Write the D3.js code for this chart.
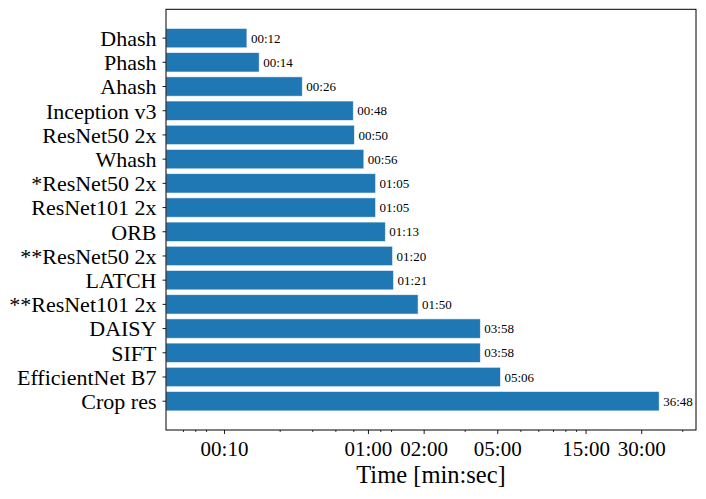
<!DOCTYPE html>
<html lang="en">
<head>
  <meta charset="UTF-8">
  <title>Time per method</title>
  <script src="https://cdn.jsdelivr.net/npm/d3@7"></script>
  <style>
    body { margin: 0; background: #fff; }
    svg text { font-family: "Liberation Serif", "DejaVu Serif", serif; fill: #000; }
  </style>
</head>
<body>

  <div id="container"></div>

  <script>
    // methods, top to bottom
    const methods = [
      "Dhash", "Phash", "Ahash", "Inception v3", "ResNet50 2x", "Whash",
      "*ResNet50 2x", "ResNet101 2x", "ORB", "**ResNet50 2x", "LATCH",
      "**ResNet101 2x", "DAISY", "SIFT", "EfficientNet B7", "Crop res"
    ];
    // run time in seconds
    const seconds = [13.3, 15.5, 26.5, 50, 50.7, 57, 66, 66, 74.5, 81.5, 82.5, 112, 243, 243, 312, 2250];
    // printed labels next to the bars
    const valueLabels = [
      "00:12", "00:14", "00:26", "00:48", "00:50", "00:56", "01:05", "01:05",
      "01:13", "01:20", "01:21", "01:50", "03:58", "03:58", "05:06", "36:48"
    ];
    // x axis ticks (seconds) and their labels
    const majorTicks = [10, 60, 120, 300, 900, 1800];
    const majorTickLabels = ["00:10", "01:00", "02:00", "05:00", "15:00", "30:00"];
    const minorTicks = [6, 7, 8, 20, 30, 40, 50, 70, 80, 200, 400, 500, 600, 700, 800, 3000];

    const width = 706;
    const height = 499;
    const marginLeft = 166, axRight = 696, axTop = 9.3, axBottom = 430;

    const data = methods.map((m, i) => ({ method: m, sec: seconds[i], label: valueLabels[i] }));

    const x = d3.scaleLog()
      .domain([4.86, 3558])
      .range([marginLeft, axRight]);

    const y = d3.scaleBand()
      .domain(methods)
      .range([axTop, axBottom])
      .paddingInner(0.2)
      .paddingOuter(0.79);

    const svg = d3.select("#container")
      .append("svg")
      .attr("width", width)
      .attr("height", height)
      .attr("viewBox", [0, 0, width, height]);

    svg.append("rect")
      .attr("width", width)
      .attr("height", height)
      .attr("fill", "#fff");

    // bars
    svg.append("g")
      .selectAll("rect")
      .data(data)
      .join("rect")
      .attr("x", marginLeft)
      .attr("y", d => y(d.method))
      .attr("width", d => x(d.sec) - marginLeft)
      .attr("height", y.bandwidth())
      .attr("fill", "#1f77b4")
      .attr("stroke", "#ffffff")
      .attr("stroke-opacity", 0.7)
      .attr("stroke-width", 0.8);

    // value labels
    svg.append("g")
      .selectAll("text")
      .data(data)
      .join("text")
      .attr("x", d => x(d.sec) + 4)
      .attr("y", d => y(d.method) + y.bandwidth() / 2 + 4.6)
      .attr("font-size", 13)
      .text(d => d.label);

    // minor ticks
    svg.append("g")
      .attr("transform", `translate(0,${axBottom})`)
      .call(d3.axisBottom(x).tickValues(minorTicks).tickSize(2).tickFormat(""))
      .call(g => g.select(".domain").remove())
      .call(g => g.selectAll("line").attr("stroke-width", 0.8));

    // major ticks
    svg.append("g")
      .attr("transform", `translate(0,${axBottom})`)
      .call(d3.axisBottom(x)
        .tickValues(majorTicks)
        .tickSize(4)
        .tickPadding(7)
        .tickFormat((d, i) => majorTickLabels[i]))
      .call(g => g.select(".domain").remove())
      .call(g => g.selectAll("text").attr("font-size", 21).attr("font-family", null))
      .call(g => g.selectAll("line").attr("stroke-width", 0.9));

    // y axis
    svg.append("g")
      .attr("transform", `translate(${marginLeft},0)`)
      .call(d3.axisLeft(y).tickSize(3.5).tickPadding(6))
      .call(g => g.select(".domain").remove())
      .call(g => g.selectAll("text").attr("font-size", 22).attr("font-family", null).attr("dy", "0.36em"))
      .call(g => g.selectAll("line").attr("stroke-width", 0.9));

    // frame
    svg.append("rect")
      .attr("x", marginLeft)
      .attr("y", axTop)
      .attr("width", axRight - marginLeft)
      .attr("height", axBottom - axTop)
      .attr("fill", "none")
      .attr("stroke", "#000")
      .attr("stroke-width", 1);

    // x label
    svg.append("text")
      .attr("x", (marginLeft + axRight) / 2)
      .attr("y", 483)
      .attr("text-anchor", "middle")
      .attr("font-size", 24.5)
      .text("Time [min:sec]");
  </script>

</body>
</html>
